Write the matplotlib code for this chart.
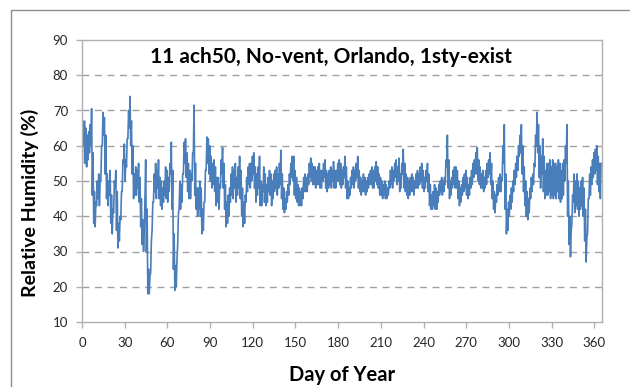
import matplotlib
matplotlib.use("Agg")
import matplotlib.pyplot as plt
import numpy as np
from matplotlib.patches import Rectangle

# daily low / high relative humidity (%), day 0..364
rh_lo = [55, 60, 55, 54, 56, 58, 60, 46, 38, 37,
         43, 45, 43, 50, 60, 63, 52, 45, 43, 46,
         38, 35, 41, 48, 36, 31, 33, 39, 47, 55,
         50, 54, 62, 65, 60, 52, 45, 46, 46, 48,
         44, 37, 32, 30, 45, 30, 18, 18, 24, 36,
         44, 47, 45, 48, 45, 43, 42, 44, 46, 45,
         44, 47, 52, 42, 25, 19, 20, 32, 42, 42,
         44, 52, 55, 51, 47, 45, 45, 50, 58, 46,
         42, 40, 42, 40, 35, 36, 44, 53, 55, 52,
         50, 48, 49, 47, 43, 44, 42, 48, 52, 48,
         42, 37, 38, 40, 44, 46, 45, 48, 44, 46,
         48, 45, 40, 37, 38, 44, 47, 49, 48, 50,
         52, 48, 44, 46, 48, 43, 43, 47, 44, 43,
         44, 47, 46, 43, 45, 47, 48, 46, 48, 49,
         45, 42, 41, 42, 44, 46, 49, 51, 50, 46,
         45, 44, 43, 43, 43, 45, 47, 47, 47, 49,
         51, 50, 49, 49, 48, 49, 49, 48, 48, 50,
         51, 48, 47, 48, 49, 48, 50, 48, 48, 50,
         50, 49, 48, 49, 51, 48, 45, 45, 46, 48,
         49, 48, 50, 51, 48, 47, 46, 47, 47, 46,
         47, 48, 49, 49, 48, 48, 50, 49, 48, 46,
         46, 45, 46, 45, 45, 46, 48, 49, 48, 50,
         51, 49, 50, 47, 48, 52, 48, 47, 46, 45,
         46, 47, 47, 46, 48, 48, 48, 49, 50, 48,
         47, 48, 50, 47, 43, 42, 42, 43, 42, 42,
         44, 46, 47, 46, 47, 49, 54, 48, 45, 46,
         48, 49, 48, 48, 45, 43, 44, 46, 47, 48,
         46, 45, 46, 48, 49, 51, 52, 52, 50, 49,
         48, 48, 47, 48, 49, 51, 52, 49, 45, 42,
         41, 44, 46, 47, 47, 50, 55, 42, 35, 36,
         40, 42, 44, 47, 49, 51, 53, 57, 58, 52,
         47, 43, 40, 39, 41, 45, 47, 49, 54, 60,
         58, 51, 48, 52, 47, 45, 46, 46, 47, 45,
         46, 45, 46, 45, 47, 45, 44, 45, 46, 50,
         55, 40, 32, 28.5, 38, 44, 41, 43, 42, 40,
         42, 43, 40, 33, 27, 35, 45, 46, 49, 51,
         52, 53, 49, 47, 45]

rh_hi = [67, 67, 65, 63, 64, 66, 70.5, 58, 47, 44,
         50, 52, 50, 60, 69.5, 68, 63, 52, 50, 53,
         46, 42, 50, 53, 47, 38, 40, 47, 56, 60.5,
         56, 62, 70, 74, 67, 60, 52, 54, 53, 55,
         51, 45, 39, 36, 56, 42, 25, 23, 33, 44,
         52, 55, 53, 56, 51, 50, 48, 50, 54, 53,
         51, 55, 61, 53, 35, 26, 28, 41, 50, 49,
         52, 61, 62, 58, 55, 53, 52, 58, 71.5, 55,
         48, 48, 50, 48, 42, 44, 53, 62.5, 62, 60,
         57, 55, 56, 54, 51, 51, 49, 56, 59.5, 55,
         49, 44, 46, 48, 52, 54, 53, 55, 51, 54,
         57, 53, 48, 44, 46, 51, 54, 55, 55, 57,
         58, 54, 52, 54, 57, 50, 49, 54, 52, 49,
         51, 53, 52, 50, 52, 53, 54, 52, 55, 58.7,
         52, 48, 45, 47, 49, 52, 55, 57, 57, 53,
         51, 49, 48, 47, 48, 51, 52, 51, 52, 55,
         56.5, 55, 54, 54, 53, 54, 55, 53, 53, 55,
         56, 53, 52, 53, 54, 53, 55.5, 53, 53, 55,
         56, 55, 53, 54, 57, 54, 50, 48, 51, 53,
         54, 53, 55, 57, 53, 51, 50, 52, 51, 50,
         51, 52, 53, 54, 53, 54, 55.5, 54, 52, 51,
         50, 49, 50, 49, 48, 50, 53, 54, 53, 55,
         56, 54, 56.5, 52, 55, 59, 55, 52, 51, 50,
         51, 52, 51, 50, 52, 53, 52, 54, 55, 53,
         51, 53, 55, 52, 49, 46, 47, 49, 48, 47,
         49, 50, 51, 50, 51, 56, 63, 56, 50, 51,
         53, 54, 54, 53, 50, 48, 49, 51, 52, 53,
         51, 49, 51, 53, 55, 56, 58, 59.5, 56, 54,
         52, 53, 51, 53, 55, 56, 58, 55, 50, 47,
         46, 49, 51, 52, 51, 60, 66, 52, 42, 44,
         46, 48, 50, 53, 55, 57, 60, 63, 66, 60,
         54, 50, 47, 45, 48, 51, 52, 55, 63, 69.5,
         66, 60, 57, 62, 57, 53, 55, 55, 56, 54,
         56, 55, 55, 54, 56, 55, 53, 55, 56, 60,
         66, 50, 40, 36, 46, 52, 50, 52, 50, 48,
         50, 51, 48, 42, 34, 45, 52, 54, 56, 58,
         59, 60, 57, 55, 55]

x_ticks = list(range(0, 361, 30))
y_ticks = list(range(10, 91, 10))
title = "11 ach50, No-vent, Orlando, 1sty-exist"

plt.rcParams['font.family'] = ['Lato', 'DejaVu Sans']

days = np.arange(len(rh_hi))
x = np.column_stack([days + 0.25, days + 0.75]).ravel()
y = np.column_stack([rh_lo, rh_hi]).ravel()

fig = plt.figure(figsize=(6.3, 3.87), dpi=100)
ax = fig.add_axes([82 / 630, 1 - 322 / 387, 520 / 630, 282 / 387])

# outer chart frame
fig.add_artist(Rectangle((11 / 630, -0.2), 1.5, 1.2 - 10 / 387, transform=fig.transFigure,
                         fill=False, edgecolor='#8c8c8c', linewidth=1.0))

ax.plot(x, y, color='#4a7ebb', linewidth=1.2)

ax.set_xlim(0, 365.4)
ax.set_ylim(10, 90)
ax.set_xticks(x_ticks)
ax.set_yticks(y_ticks)
for v in y_ticks[1:-1]:
    ax.axhline(v, color='#a0a0a0', linewidth=1.0, linestyle=(0, (5, 4)), zorder=0)

for s in ax.spines.values():
    s.set_color('#b0b0b0')
    s.set_linewidth(1.0)
ax.tick_params(axis='x', direction='out', length=4, width=1, color='#b0b0b0',
               pad=7, labelsize=9.5, labelcolor='#262626')
ax.tick_params(axis='y', direction='out', length=4, width=1, color='#b0b0b0',
               pad=6, labelsize=9.5, labelcolor='#262626')

ax.text(0.478, 0.94, title, transform=ax.transAxes, ha='center', va='center',
        fontsize=15, fontweight='bold')
fig.text(342 / 630, 1 - 375 / 387, "Day of Year", ha='center', va='center',
         fontsize=14.5, fontweight='bold')
fig.text(30 / 630, 1 - 203 / 387, "Relative Humidity (%)", ha='center', va='center',
         rotation=90, fontsize=14, fontweight='bold')

fig.savefig("out.png", dpi=100)
